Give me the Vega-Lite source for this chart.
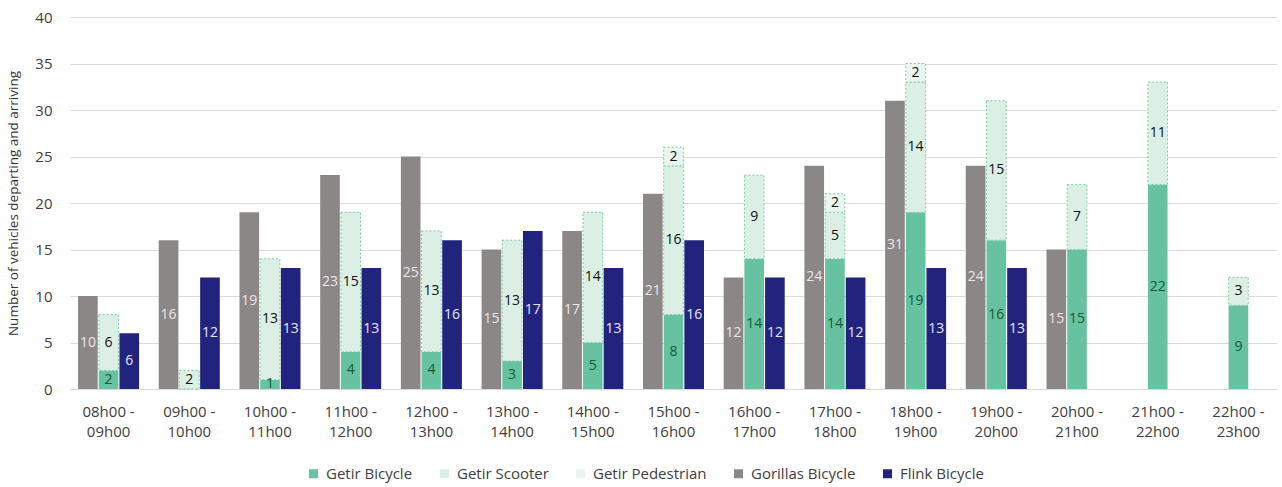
{
  "$schema": "https://vega.github.io/schema/vega-lite/v6.json",
  "autosize": "none",
  "width": 1207,
  "height": 372,
  "padding": {"left": 70, "top": 17, "right": 5, "bottom": 98},
  "background": "white",
  "config": {
    "font": "Open Sans",
    "view": {"stroke": null}
  },
  "data": {
    "values": [
      {"slot": "08h00 - 09h00", "company": "Gorillas", "series": "Gorillas Bicycle", "value": 10},
      {"slot": "08h00 - 09h00", "company": "Getir", "series": "Getir Bicycle", "value": 2},
      {"slot": "08h00 - 09h00", "company": "Getir", "series": "Getir Scooter", "value": 6},
      {"slot": "08h00 - 09h00", "company": "Flink", "series": "Flink Bicycle", "value": 6},
      {"slot": "09h00 - 10h00", "company": "Gorillas", "series": "Gorillas Bicycle", "value": 16},
      {"slot": "09h00 - 10h00", "company": "Getir", "series": "Getir Scooter", "value": 2},
      {"slot": "09h00 - 10h00", "company": "Flink", "series": "Flink Bicycle", "value": 12},
      {"slot": "10h00 - 11h00", "company": "Gorillas", "series": "Gorillas Bicycle", "value": 19},
      {"slot": "10h00 - 11h00", "company": "Getir", "series": "Getir Bicycle", "value": 1},
      {"slot": "10h00 - 11h00", "company": "Getir", "series": "Getir Scooter", "value": 13},
      {"slot": "10h00 - 11h00", "company": "Flink", "series": "Flink Bicycle", "value": 13},
      {"slot": "11h00 - 12h00", "company": "Gorillas", "series": "Gorillas Bicycle", "value": 23},
      {"slot": "11h00 - 12h00", "company": "Getir", "series": "Getir Bicycle", "value": 4},
      {"slot": "11h00 - 12h00", "company": "Getir", "series": "Getir Scooter", "value": 15},
      {"slot": "11h00 - 12h00", "company": "Flink", "series": "Flink Bicycle", "value": 13},
      {"slot": "12h00 - 13h00", "company": "Gorillas", "series": "Gorillas Bicycle", "value": 25},
      {"slot": "12h00 - 13h00", "company": "Getir", "series": "Getir Bicycle", "value": 4},
      {"slot": "12h00 - 13h00", "company": "Getir", "series": "Getir Scooter", "value": 13},
      {"slot": "12h00 - 13h00", "company": "Flink", "series": "Flink Bicycle", "value": 16},
      {"slot": "13h00 - 14h00", "company": "Gorillas", "series": "Gorillas Bicycle", "value": 15},
      {"slot": "13h00 - 14h00", "company": "Getir", "series": "Getir Bicycle", "value": 3},
      {"slot": "13h00 - 14h00", "company": "Getir", "series": "Getir Scooter", "value": 13},
      {"slot": "13h00 - 14h00", "company": "Flink", "series": "Flink Bicycle", "value": 17},
      {"slot": "14h00 - 15h00", "company": "Gorillas", "series": "Gorillas Bicycle", "value": 17},
      {"slot": "14h00 - 15h00", "company": "Getir", "series": "Getir Bicycle", "value": 5},
      {"slot": "14h00 - 15h00", "company": "Getir", "series": "Getir Scooter", "value": 14},
      {"slot": "14h00 - 15h00", "company": "Flink", "series": "Flink Bicycle", "value": 13},
      {"slot": "15h00 - 16h00", "company": "Gorillas", "series": "Gorillas Bicycle", "value": 21},
      {"slot": "15h00 - 16h00", "company": "Getir", "series": "Getir Bicycle", "value": 8},
      {"slot": "15h00 - 16h00", "company": "Getir", "series": "Getir Scooter", "value": 16},
      {"slot": "15h00 - 16h00", "company": "Getir", "series": "Getir Pedestrian", "value": 2},
      {"slot": "15h00 - 16h00", "company": "Flink", "series": "Flink Bicycle", "value": 16},
      {"slot": "16h00 - 17h00", "company": "Gorillas", "series": "Gorillas Bicycle", "value": 12},
      {"slot": "16h00 - 17h00", "company": "Getir", "series": "Getir Bicycle", "value": 14},
      {"slot": "16h00 - 17h00", "company": "Getir", "series": "Getir Scooter", "value": 9},
      {"slot": "16h00 - 17h00", "company": "Flink", "series": "Flink Bicycle", "value": 12},
      {"slot": "17h00 - 18h00", "company": "Gorillas", "series": "Gorillas Bicycle", "value": 24},
      {"slot": "17h00 - 18h00", "company": "Getir", "series": "Getir Bicycle", "value": 14},
      {"slot": "17h00 - 18h00", "company": "Getir", "series": "Getir Scooter", "value": 5},
      {"slot": "17h00 - 18h00", "company": "Getir", "series": "Getir Pedestrian", "value": 2},
      {"slot": "17h00 - 18h00", "company": "Flink", "series": "Flink Bicycle", "value": 12},
      {"slot": "18h00 - 19h00", "company": "Gorillas", "series": "Gorillas Bicycle", "value": 31},
      {"slot": "18h00 - 19h00", "company": "Getir", "series": "Getir Bicycle", "value": 19},
      {"slot": "18h00 - 19h00", "company": "Getir", "series": "Getir Scooter", "value": 14},
      {"slot": "18h00 - 19h00", "company": "Getir", "series": "Getir Pedestrian", "value": 2},
      {"slot": "18h00 - 19h00", "company": "Flink", "series": "Flink Bicycle", "value": 13},
      {"slot": "19h00 - 20h00", "company": "Gorillas", "series": "Gorillas Bicycle", "value": 24},
      {"slot": "19h00 - 20h00", "company": "Getir", "series": "Getir Bicycle", "value": 16},
      {"slot": "19h00 - 20h00", "company": "Getir", "series": "Getir Scooter", "value": 15},
      {"slot": "19h00 - 20h00", "company": "Flink", "series": "Flink Bicycle", "value": 13},
      {"slot": "20h00 - 21h00", "company": "Gorillas", "series": "Gorillas Bicycle", "value": 15},
      {"slot": "20h00 - 21h00", "company": "Getir", "series": "Getir Bicycle", "value": 15},
      {"slot": "20h00 - 21h00", "company": "Getir", "series": "Getir Scooter", "value": 7},
      {"slot": "21h00 - 22h00", "company": "Getir", "series": "Getir Bicycle", "value": 22},
      {"slot": "21h00 - 22h00", "company": "Getir", "series": "Getir Scooter", "value": 11},
      {"slot": "22h00 - 23h00", "company": "Getir", "series": "Getir Bicycle", "value": 9},
      {"slot": "22h00 - 23h00", "company": "Getir", "series": "Getir Scooter", "value": 3}
    ]
  },
  "transform": [
    {"calculate": "indexof(['Getir Bicycle','Getir Scooter','Getir Pedestrian','Gorillas Bicycle','Flink Bicycle'], datum.series)", "as": "ord"},
    {"stack": "value", "groupby": ["slot", "company"], "sort": [{"field": "ord", "order": "ascending"}], "as": ["v0", "v1"]},
    {"calculate": "(datum.v0 + datum.v1) / 2", "as": "mid"}
  ],
  "encoding": {
    "x": {
      "field": "slot",
      "type": "nominal",
      "sort": null,
      "scale": {"paddingInner": 0.244, "paddingOuter": 0.1},
      "axis": {
        "title": null,
        "labelAngle": 0,
        "labelExpr": "[slice(datum.label, 0, 7), slice(datum.label, 8)]",
        "labelFontSize": 15,
        "labelColor": "#404040",
        "labelLineHeight": 20,
        "labelPadding": 15,
        "ticks": false,
        "domainColor": "#d9d9d9"
      }
    },
    "xOffset": {
      "field": "company",
      "type": "nominal",
      "sort": ["Gorillas", "Getir", "Flink"],
      "scale": {"paddingInner": 0.05}
    }
  },
  "layer": [
    {
      "mark": {"type": "bar", "strokeWidth": 1},
      "encoding": {
        "y": {
          "field": "v0",
          "type": "quantitative",
          "scale": {"domain": [0, 40]},
          "axis": {
            "title": "Number of vehicles departing and arriving",
            "titleFontSize": 13.5,
            "titleFontWeight": "normal",
            "titleColor": "#333333",
            "titlePadding": 14,
            "values": [0, 5, 10, 15, 20, 25, 30, 35, 40],
            "labelFontSize": 15,
            "labelColor": "#404040",
            "labelPadding": 18,
            "domain": false,
            "ticks": false,
            "gridColor": "#dcdcdc"
          }
        },
        "y2": {"field": "v1"},
        "color": {
          "field": "series",
          "type": "nominal",
          "scale": {
            "domain": ["Getir Bicycle", "Getir Scooter", "Getir Pedestrian", "Gorillas Bicycle", "Flink Bicycle"],
            "range": ["#66c2a0", "#dcefe5", "#e9f5ee", "#8c8787", "#22237c"]
          },
          "legend": {
            "title": null,
            "orient": "none",
            "direction": "horizontal",
            "legendX": 236,
            "legendY": 449,
            "symbolType": "square",
            "symbolSize": 81,
            "symbolStrokeWidth": 0,
            "labelFontSize": 15,
            "labelColor": "#404040",
            "columnPadding": 24,
            "labelOffset": 5
          }
        },
        "stroke": {
          "condition": {"test": "datum.series === 'Getir Scooter' || datum.series === 'Getir Pedestrian'", "value": "#7fcaa9"},
          "value": null
        },
        "strokeDash": {
          "condition": {"test": "datum.series === 'Getir Scooter' || datum.series === 'Getir Pedestrian'", "value": [2, 2]},
          "value": [1, 0]
        }
      }
    },
    {
      "mark": {"type": "text", "fontSize": 14, "align": "center", "baseline": "middle"},
      "encoding": {
        "y": {"field": "mid", "type": "quantitative"},
        "text": {"field": "value", "type": "quantitative"},
        "color": {
          "condition": [
            {"test": "datum.series === 'Gorillas Bicycle'", "value": "#efe6e6"},
            {"test": "datum.series === 'Flink Bicycle'", "value": "#e6e6ff"},
            {"test": "datum.series === 'Getir Bicycle'", "value": "#145a35"}
          ],
          "value": "#111111"
        }
      }
    }
  ]
}
